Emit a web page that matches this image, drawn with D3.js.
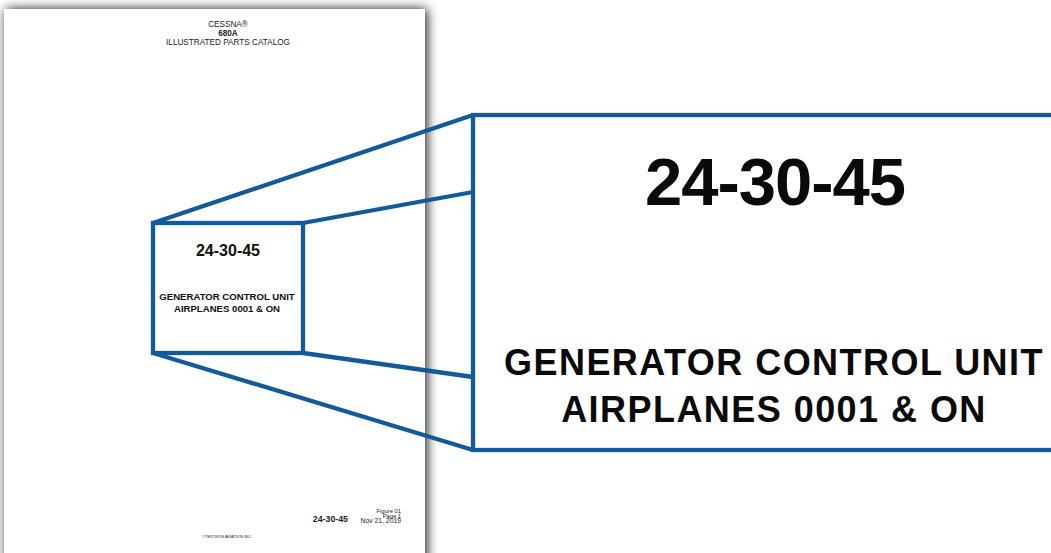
<!DOCTYPE html>
<html lang="en">
<head>
  <meta charset="UTF-8">
  <script src="https://cdn.jsdelivr.net/npm/d3@7/dist/d3.min.js"></script>
  <title>24-30-45 callout</title>
  <style>
    body { margin: 0; background: #ffffff; }
    svg { display: block; font-family: "Liberation Sans", Arial, sans-serif; }
    .callout { fill: #fff; stroke: #135a9a; stroke-width: 4.3; }
    .link { stroke: #135a9a; stroke-width: 4.3; }
  </style>
</head>
<body>
<div id="chart"></div>
<script>
  // page texts
  var headerLines = ["CESSNA\u00AE", "680A", "ILLUSTRATED PARTS CATALOG"];
  var sectionCode = "24-30-45";
  var titleLines = ["GENERATOR CONTROL UNIT", "AIRPLANES 0001 & ON"];
  var footerRight = ["Figure 01", "Page 1"];
  var footerDate = "Nov 21, 2019";
  var copyright = "\u00A9TEXTRON AVIATION INC.";

  var width = 1051, height = 553;

  var svg = d3.select("#chart").append("svg")
    .attr("width", width)
    .attr("height", height);

  var defs = svg.append("defs");
  var f = defs.append("filter").attr("id", "shadow")
    .attr("x", "-10%").attr("y", "-10%").attr("width", "120%").attr("height", "120%");
  f.append("feDropShadow")
    .attr("dx", 2).attr("dy", 0)
    .attr("stdDeviation", 6)
    .attr("flood-color", "#000")
    .attr("flood-opacity", 0.9);

  // the page
  svg.append("rect")
    .attr("x", 4).attr("y", 9)
    .attr("width", 421).attr("height", 600)
    .attr("fill", "#fff")
    .attr("filter", "url(#shadow)");

  // header
  var header = svg.append("g").attr("text-anchor", "middle").attr("fill", "#222");
  header.selectAll("text")
    .data(headerLines)
    .enter().append("text")
    .attr("x", 228)
    .attr("y", function(d, i) { return 27 + i * 9; })
    .style("font-size", "8.2px")
    .style("font-weight", function(d, i) { return i == 1 ? "bold" : "normal"; })
    .text(function(d) { return d; });

  // footer
  var footer = svg.append("g").attr("fill", "#222");
  footer.selectAll(".fr")
    .data(footerRight)
    .enter().append("text")
    .attr("class", "fr")
    .attr("x", 401)
    .attr("y", function(d, i) { return 513 + i * 4.5; })
    .attr("text-anchor", "end")
    .style("font-size", "5.8px")
    .text(function(d) { return d; });
  footer.append("text")
    .attr("x", 401).attr("y", 522.5)
    .attr("text-anchor", "end")
    .style("font-size", "6.8px")
    .text(footerDate);
  footer.append("text")
    .attr("x", 348).attr("y", 522)
    .attr("text-anchor", "end")
    .style("font-size", "8.8px")
    .style("font-weight", "bold")
    .text(sectionCode);
  footer.append("text")
    .attr("x", 202).attr("y", 538)
    .style("font-size", "4px")
    .text(copyright);

  // callout boxes: small one on the page, big zoomed one to the right
  var small = {x0: 153, y0: 223, x1: 303, y1: 353};
  var big = {x0: 473, y0: 115, x1: 1070, y1: 450};
  var bigRight = {top: 192, bottom: 377};

  var links = [
    [[small.x0, small.y0], [big.x0, big.y0]],
    [[small.x1, small.y0], [big.x0, bigRight.top]],
    [[small.x0, small.y1], [big.x0, big.y1]],
    [[small.x1, small.y1], [big.x0, bigRight.bottom]]
  ];

  svg.selectAll(".link")
    .data(links)
    .enter().append("line")
    .attr("class", "link")
    .attr("x1", function(d) { return d[0][0]; })
    .attr("y1", function(d) { return d[0][1]; })
    .attr("x2", function(d) { return d[1][0]; })
    .attr("y2", function(d) { return d[1][1]; });

  svg.selectAll(".callout")
    .data([small, big])
    .enter().append("rect")
    .attr("class", "callout")
    .attr("x", function(b) { return b.x0; })
    .attr("y", function(b) { return b.y0; })
    .attr("width", function(b) { return b.x1 - b.x0; })
    .attr("height", function(b) { return b.y1 - b.y0; });

  // text inside small box
  var sg = svg.append("g").attr("text-anchor", "middle").attr("fill", "#111").style("font-weight", "bold");
  sg.append("text").attr("x", 228).attr("y", 256).style("font-size", "16px").text(sectionCode);
  sg.selectAll(".st")
    .data(titleLines)
    .enter().append("text")
    .attr("class", "st")
    .attr("x", 227)
    .attr("y", function(d, i) { return 300 + i * 12; })
    .style("font-size", "9.6px")
    .text(function(d) { return d; });

  // text inside big box
  var bg = svg.append("g").attr("text-anchor", "middle").attr("fill", "#0a0a0a").style("font-weight", "bold");
  bg.append("text").attr("x", 775).attr("y", 205)
    .style("font-size", "67px")
    .style("letter-spacing", "-1px")
    .text(sectionCode);
  bg.selectAll(".bt")
    .data(titleLines)
    .enter().append("text")
    .attr("class", "bt")
    .attr("x", 774)
    .attr("y", function(d, i) { return 375 + i * 47; })
    .style("font-size", "36px")
    .style("letter-spacing", "1.45px")
    .text(function(d) { return d; });
</script>
</body>
</html>
